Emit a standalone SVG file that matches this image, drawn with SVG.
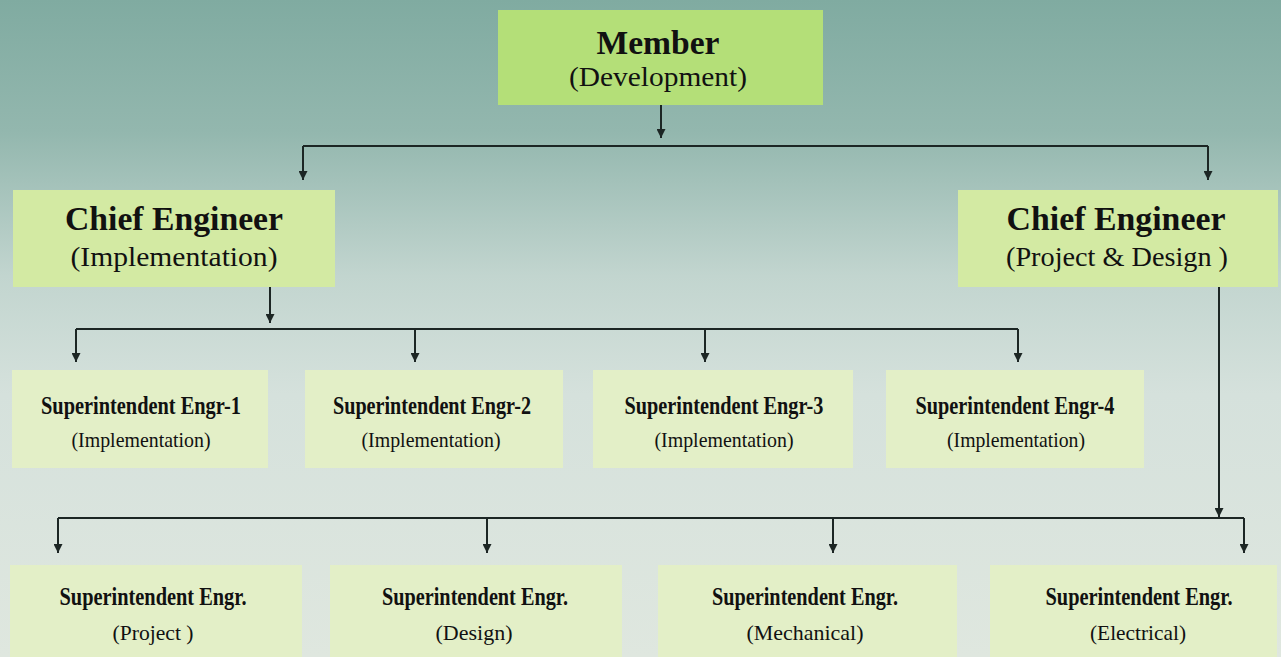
<svg xmlns="http://www.w3.org/2000/svg" width="1281" height="657" viewBox="0 0 1281 657">
<defs>
<linearGradient id="bg" x1="0" y1="0" x2="0" y2="1">
<stop offset="0" stop-color="#80aba1"/>
<stop offset="0.2" stop-color="#93b7ae"/>
<stop offset="0.42" stop-color="#c2d5cf"/>
<stop offset="0.6" stop-color="#d5e1dc"/>
<stop offset="1" stop-color="#dfe7df"/>
</linearGradient>
<marker id="ah" viewBox="0 0 10 10" refX="10" refY="5" markerWidth="11" markerHeight="9" markerUnits="userSpaceOnUse" orient="auto">
<path d="M0,0 L10,5 L0,10 z" fill="#1c2624"/>
</marker>
<style>
.c{stroke:#1c2624;stroke-width:2;fill:none}
.a{marker-end:url(#ah)}
.t1{font-family:"Liberation Serif","DejaVu Serif",serif;font-weight:bold;fill:#111;text-anchor:middle}
.t2{font-family:"Liberation Serif","DejaVu Serif",serif;fill:#111;text-anchor:middle}
.s1{font-family:"Liberation Serif","DejaVu Serif",serif;font-weight:bold;fill:#111;text-anchor:middle;font-size:26px}
.s2{font-family:"Liberation Serif","DejaVu Serif",serif;fill:#111;text-anchor:middle;font-size:22px}
.bm{fill:#b4df78}
.bc{fill:#d3eaa3}
.bs{fill:#e3efc7}
</style>
</defs>
<rect width="1281" height="657" fill="url(#bg)"/>

<g id="connectors">
<path class="c a" d="M661,105 V138"/>
<path class="c" d="M303,146 H1208"/>
<path class="c a" d="M303,146 V180"/>
<path class="c a" d="M1208,146 V180"/>
<path class="c a" d="M270,287 V323"/>
<path class="c" d="M76,329 H1018"/>
<path class="c a" d="M76,329 V362"/>
<path class="c a" d="M415,329 V362"/>
<path class="c a" d="M705,329 V362"/>
<path class="c a" d="M1018,329 V362"/>
<path class="c a" d="M1219,287 V517"/>
<path class="c" d="M58,518 H1244"/>
<path class="c a" d="M58,518 V553"/>
<path class="c a" d="M487,518 V553"/>
<path class="c a" d="M833,518 V553"/>
<path class="c a" d="M1244,518 V553"/>
</g>

<g id="member">
<rect class="bm" x="498" y="10" width="325" height="95"/>
<text class="t1" x="658" y="54" font-size="34" textLength="123" lengthAdjust="spacingAndGlyphs">Member</text>
<text class="t2" x="658" y="86" font-size="27" textLength="178" lengthAdjust="spacingAndGlyphs">(Development)</text>
</g>

<g id="chief-impl">
<rect class="bc" x="13" y="190" width="322" height="97"/>
<text class="t1" x="174" y="230" font-size="34" textLength="218" lengthAdjust="spacingAndGlyphs">Chief Engineer</text>
<text class="t2" x="174" y="266" font-size="28" textLength="207" lengthAdjust="spacingAndGlyphs">(Implementation)</text>
</g>

<g id="chief-pd">
<rect class="bc" x="958" y="190" width="320" height="97"/>
<text class="t1" x="1116" y="230" font-size="34" textLength="219" lengthAdjust="spacingAndGlyphs">Chief Engineer</text>
<text class="t2" x="1117" y="266" font-size="28" textLength="222" lengthAdjust="spacingAndGlyphs">(Project &amp; Design )</text>
</g>

<g id="se1">
<rect class="bs" x="12" y="370" width="256" height="98"/>
<text class="s1" x="141" y="414" textLength="200" lengthAdjust="spacingAndGlyphs">Superintendent Engr-1</text>
<text class="s2" x="141" y="447" textLength="139" lengthAdjust="spacingAndGlyphs">(Implementation)</text>
</g>
<g id="se2">
<rect class="bs" x="305" y="370" width="258" height="98"/>
<text class="s1" x="432" y="414" textLength="198" lengthAdjust="spacingAndGlyphs">Superintendent Engr-2</text>
<text class="s2" x="431" y="447" textLength="139" lengthAdjust="spacingAndGlyphs">(Implementation)</text>
</g>
<g id="se3">
<rect class="bs" x="593" y="370" width="260" height="98"/>
<text class="s1" x="724" y="414" textLength="199" lengthAdjust="spacingAndGlyphs">Superintendent Engr-3</text>
<text class="s2" x="724" y="447" textLength="139" lengthAdjust="spacingAndGlyphs">(Implementation)</text>
</g>
<g id="se4">
<rect class="bs" x="886" y="370" width="258" height="98"/>
<text class="s1" x="1015" y="414" textLength="199" lengthAdjust="spacingAndGlyphs">Superintendent Engr-4</text>
<text class="s2" x="1016" y="447" textLength="138" lengthAdjust="spacingAndGlyphs">(Implementation)</text>
</g>

<g id="se-project">
<rect class="bs" x="10" y="565" width="292" height="92"/>
<text class="s1" x="153" y="605" textLength="187" lengthAdjust="spacingAndGlyphs">Superintendent Engr.</text>
<text class="s2" x="153" y="640" textLength="81" lengthAdjust="spacingAndGlyphs">(Project )</text>
</g>
<g id="se-design">
<rect class="bs" x="330" y="565" width="292" height="92"/>
<text class="s1" x="475" y="605" textLength="186" lengthAdjust="spacingAndGlyphs">Superintendent Engr.</text>
<text class="s2" x="474" y="640" textLength="77" lengthAdjust="spacingAndGlyphs">(Design)</text>
</g>
<g id="se-mechanical">
<rect class="bs" x="658" y="565" width="299" height="92"/>
<text class="s1" x="805" y="605" textLength="186" lengthAdjust="spacingAndGlyphs">Superintendent Engr.</text>
<text class="s2" x="805" y="640" textLength="117" lengthAdjust="spacingAndGlyphs">(Mechanical)</text>
</g>
<g id="se-electrical">
<rect class="bs" x="990" y="565" width="287" height="92"/>
<text class="s1" x="1139" y="605" textLength="187" lengthAdjust="spacingAndGlyphs">Superintendent Engr.</text>
<text class="s2" x="1138" y="640" textLength="96" lengthAdjust="spacingAndGlyphs">(Electrical)</text>
</g>
</svg>
